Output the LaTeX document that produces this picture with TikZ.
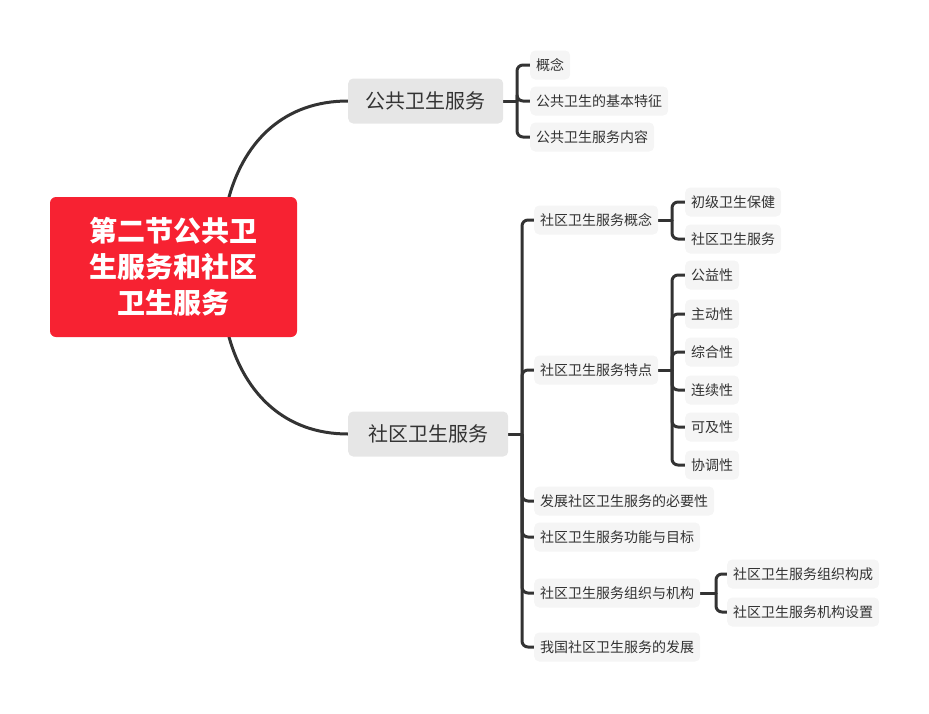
\documentclass[tikz,border=0pt]{standalone}
\usepackage{fontspec}
\setmainfont{Noto Sans CJK SC}
\usetikzlibrary{backgrounds}
\definecolor{rootred}{HTML}{F72232}
\definecolor{lvlone}{HTML}{E6E6E6}
\definecolor{leaf}{HTML}{F5F5F5}
\definecolor{ink}{HTML}{333333}
\tikzset{
  rootbox/.style={fill=rootred, rounded corners=6pt, minimum width=247pt, minimum height=140pt,
    text=white, font=\fontsize{28}{36}\selectfont\bfseries, align=center, inner sep=0pt},
  topicbox/.style={fill=lvlone, rounded corners=5pt, minimum height=45pt, inner xsep=16pt,
    text=ink, font=\fontsize{20}{22}\selectfont, anchor=west},
  leafbox/.style={fill=leaf, rounded corners=5pt, minimum height=29pt, inner xsep=6pt,
    text=ink, font=\fontsize{14}{16}\selectfont, anchor=west},
  link/.style={draw=ink, line width=3pt, line cap=round},
  brace/.style={draw=ink, line width=3pt, rounded corners=6pt},
}
\begin{document}
\begin{tikzpicture}[x=1pt, y=-1pt]
\useasboundingbox (0,0) rectangle (929,713);
% root
\node[rootbox] (root) at (173.5,267) {第二节公共卫\\生服务和社区\\卫生服务};
% level 1
\node[topicbox, minimum width=155pt] (pub) at (348,101) {公共卫生服务};
\node[topicbox, minimum width=160pt] (com) at (348,434) {社区卫生服务};
% leaves of pub
\node[leafbox] (p1) at (530,65) {概念};
\node[leafbox] (p2) at (530,101) {公共卫生的基本特征};
\node[leafbox] (p3) at (530,137) {公共卫生服务内容};
% leaves of com
\node[leafbox] (c1) at (534,220) {社区卫生服务概念};
\node[leafbox] (c2) at (534,370) {社区卫生服务特点};
\node[leafbox] (c3) at (534,501) {发展社区卫生服务的必要性};
\node[leafbox] (c4) at (534,537) {社区卫生服务功能与目标};
\node[leafbox] (c5) at (534,593) {社区卫生服务组织与机构};
\node[leafbox] (c6) at (534,647) {我国社区卫生服务的发展};
% c1 children
\node[leafbox] (c11) at (685,202) {初级卫生保健};
\node[leafbox] (c12) at (685,239) {社区卫生服务};
% c2 children
\node[leafbox] (c21) at (685,275) {公益性};
\node[leafbox] (c22) at (685,314) {主动性};
\node[leafbox] (c23) at (685,352) {综合性};
\node[leafbox] (c24) at (685,390) {连续性};
\node[leafbox] (c25) at (685,427) {可及性};
\node[leafbox] (c26) at (685,465) {协调性};
% c5 children
\node[leafbox] (c51) at (727,574) {社区卫生服务组织构成};
\node[leafbox] (c52) at (727,612) {社区卫生服务机构设置};
% junction points
\coordinate (jp) at (517,101);
\coordinate (jc) at (522,434);
\coordinate (j1) at (672,220);
\coordinate (j2) at (672,370);
\coordinate (j5) at (716,593);
\coordinate (rt) at (229,197);
\coordinate (rb) at (229,337);
\begin{scope}[on background layer]
\draw[link] (rt) .. controls (245,140) and (285,101) .. (pub.west);
\draw[link] (rb) .. controls (245,394) and (285,434) .. (com.west);
\draw[link] (pub.east) -- (jp);
\draw[link] (com.east) -- (jc);
\draw[link] (c1.east) -- (j1);
\draw[link] (c2.east) -- (j2);
\draw[link] (c5.east) -- (j5);
\foreach \c in {p1,p2,p3} \draw[brace] (jp) |- (\c.west);
\foreach \c in {c1,c2,c3,c4,c5,c6} \draw[brace] (jc) |- (\c.west);
\foreach \c in {c11,c12} \draw[brace] (j1) |- (\c.west);
\foreach \c in {c21,c22,c23,c24,c25,c26} \draw[brace] (j2) |- (\c.west);
\foreach \c in {c51,c52} \draw[brace] (j5) |- (\c.west);
\end{scope}
\end{tikzpicture}
\end{document}
